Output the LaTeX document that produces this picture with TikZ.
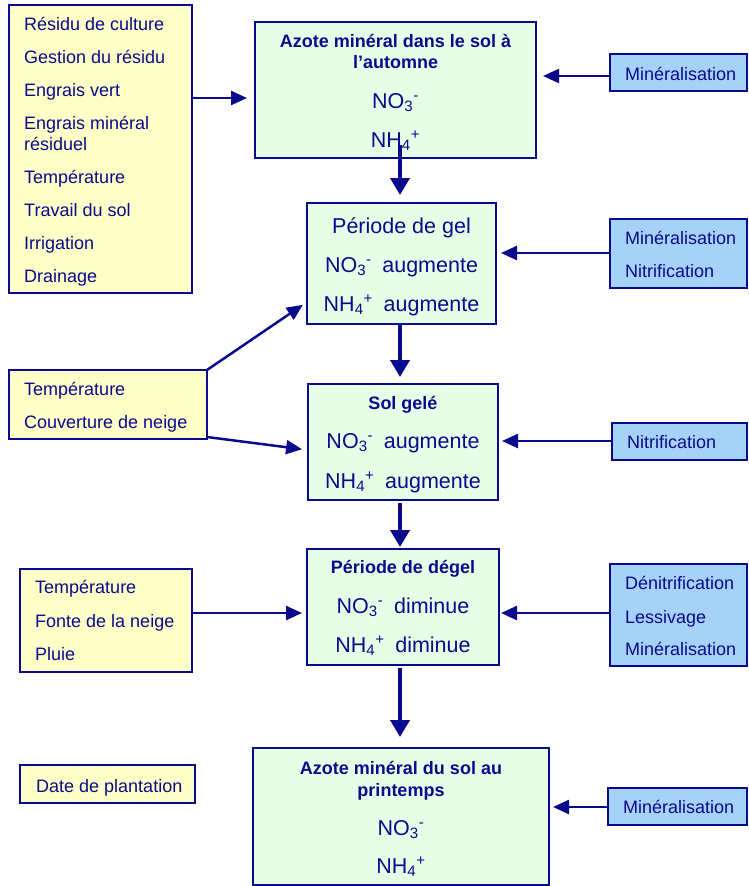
\documentclass[tikz,border=0pt]{standalone}
\usepackage{fontspec}
\setmainfont{Liberation Sans}
\usetikzlibrary{arrows.meta}
\definecolor{navy}{RGB}{10,10,140}
\definecolor{yfill}{RGB}{255,255,200}
\definecolor{gfill}{RGB}{230,255,230}
\definecolor{bfill}{RGB}{166,210,248}
\tikzset{
  box/.style={draw=navy, line width=1.5pt, inner sep=0pt, outer sep=0pt, anchor=north west},
  ybox/.style={box, fill=yfill},
  gbox/.style={box, fill=gfill},
  bbox/.style={box, fill=bfill},
  lbl/.style={text=navy, inner sep=0pt, font=\fontsize{18}{21}\selectfont, anchor=base west},
  big/.style={text=navy, inner sep=0pt, font=\fontsize{21.5}{25}\selectfont, anchor=base},
  ttl/.style={text=navy, inner sep=0pt, font=\bfseries\fontsize{18}{21}\selectfont, anchor=base},
  harr/.style={draw=navy, line width=2.5pt, -{Triangle[length=16pt,width=14pt]}},
  varr/.style={draw=navy, line width=4pt, -{Triangle[length=17pt,width=19pt]}}
}
\newcommand\noIII{NO\textsubscript{3}\textsuperscript{-}}
\newcommand\nhIV{NH\textsubscript{4}\textsuperscript{+}}
\begin{document}
\begin{tikzpicture}[x=1pt,y=-1pt]
\useasboundingbox (0,0) rectangle (748,886);
\fill[white] (0,0) rectangle (748,886);

% boxes
\node[ybox, minimum width=183pt, minimum height=288pt] (f1) at (9,5) {};
\node[gbox, minimum width=281pt, minimum height=136pt] (t1) at (255,22) {};
\node[bbox, minimum width=137pt, minimum height=37pt] (m1) at (610,54) {};
\node[gbox, minimum width=189pt, minimum height=121pt] (gel) at (307,203) {};
\node[bbox, minimum width=137pt, minimum height=69pt] (m2) at (610,219) {};
\node[ybox, minimum width=198pt, minimum height=69pt] (tc) at (9,370) {};
\node[gbox, minimum width=190pt, minimum height=116pt] (sg) at (308,384) {};
\node[bbox, minimum width=135pt, minimum height=37pt] (nit) at (612,423) {};
\node[ybox, minimum width=172pt, minimum height=103pt] (tfp) at (20,569) {};
\node[gbox, minimum width=192pt, minimum height=116pt] (dg) at (307,549) {};
\node[bbox, minimum width=137pt, minimum height=102pt] (den) at (610,564) {};
\node[ybox, minimum width=175pt, minimum height=38pt] (date) at (20,765) {};
\node[gbox, minimum width=296pt, minimum height=137pt] (bot) at (253,748) {};
\node[bbox, minimum width=139pt, minimum height=37pt] (m3) at (608,788) {};

% texts of f1
\node[lbl] (f1a) at (24,30.5) {Résidu de culture};
\node[lbl] (f1b) at (24,63.5) {Gestion du résidu};
\node[lbl] (f1c) at (24,96.5) {Engrais vert};
\node[lbl] (f1d) at (24,129.5) {Engrais minéral};
\node[lbl] (f1e) at (24,150.5) {résiduel};
\node[lbl] (f1f) at (24,183.5) {Température};
\node[lbl] (f1g) at (24,216.5) {Travail du sol};
\node[lbl] (f1h) at (24,249.5) {Irrigation};
\node[lbl] (f1i) at (24,282.5) {Drainage};

% t1
\node[ttl] (t1a) at (t1.center |- 0,47) {Azote minéral dans le sol à};
\node[ttl] (t1b) at (t1.center |- 0,68) {l’automne};
\node[big] (t1c) at (t1.center |- 0,108) {\noIII};
\node[big] (t1d) at (t1.center |- 0,147) {\nhIV};

% m1
\node[lbl] (m1a) at (625,80) {Minéralisation};

% gel
\node[big] (gela) at (gel.center |- 0,233) {Période de gel};
\node[big] (gelb) at (gel.center |- 0,272) {\noIII\hspace{0.5em}augmente};
\node[big] (gelc) at (gel.center |- 0,311) {\nhIV\hspace{0.5em}augmente};

% m2
\node[lbl] (m2a) at (625,244) {Minéralisation};
\node[lbl] (m2b) at (625,277) {Nitrification};

% tc
\node[lbl] (tca) at (24,395) {Température};
\node[lbl] (tcb) at (24,428) {Couverture de neige};

% sg
\node[ttl] (sga) at (sg.center |- 0,409) {Sol gelé};
\node[big] (sgb) at (sg.center |- 0,448) {\noIII\hspace{0.5em}augmente};
\node[big] (sgc) at (sg.center |- 0,488) {\nhIV\hspace{0.5em}augmente};

% nit
\node[lbl] (nita) at (627,448) {Nitrification};

% tfp
\node[lbl] (tfpa) at (35,593) {Température};
\node[lbl] (tfpb) at (35,627) {Fonte de la neige};
\node[lbl] (tfpc) at (35,660) {Pluie};

% dg
\node[ttl] (dga) at (dg.center |- 0,573) {Période de dégel};
\node[big] (dgb) at (dg.center |- 0,613) {\noIII\hspace{0.5em}diminue};
\node[big] (dgc) at (dg.center |- 0,652) {\nhIV\hspace{0.5em}diminue};

% den
\node[lbl] (dena) at (625,589) {Dénitrification};
\node[lbl] (denb) at (625,623) {Lessivage};
\node[lbl] (denc) at (625,655) {Minéralisation};

% date
\node[lbl] (datea) at (36,792) {Date de plantation};

% bot
\node[ttl] (bota) at (bot.center |- 0,774) {Azote minéral du sol au};
\node[ttl] (botb) at (bot.center |- 0,796) {printemps};
\node[big] (botc) at (bot.center |- 0,835) {\noIII};
\node[big] (botd) at (bot.center |- 0,873) {\nhIV};

% m3
\node[lbl] (m3a) at (623,813) {Minéralisation};

% horizontal arrows
\draw[harr, shorten >=8pt] (f1.east |- 0,98) -- (t1.west |- 0,98);
\draw[harr, shorten >=7pt] (m1.west |- 0,76) -- (t1.east |- 0,76);
\draw[harr, shorten >=5pt] (m2.west |- 0,253) -- (gel.east |- 0,253);
\draw[harr, shorten >=4pt] (nit.west |- 0,441) -- (sg.east |- 0,441);
\draw[harr, shorten >=2pt] (den.west |- 0,613) -- (dg.east |- 0,613);
\draw[harr, shorten >=4pt] (m3.west |- 0,807) -- (bot.east |- 0,807);
\draw[harr, shorten >=5pt] (tfp.east |- 0,613) -- (dg.west |- 0,613);
\draw[harr, shorten >=5pt] (tc.north east) -- (gel.west |- 0,302);
\draw[harr, shorten >=6pt] (tc.east |- 0,437) -- (sg.west |- 0,450);

% vertical arrows
\draw[varr, shorten <=-13pt, shorten >=8pt] (t1.south -| 400,0) -- (gel.north -| 400,0);
\draw[varr, shorten >=7pt] (gel.south -| 400,0) -- (sg.north -| 400,0);
\draw[varr, shorten <=3pt, shorten >=2pt] (sg.south -| 400,0) -- (dg.north -| 400,0);
\draw[varr, shorten <=3pt, shorten >=11pt] (dg.south -| 400,0) -- (bot.north -| 400,0);
\end{tikzpicture}
\end{document}
